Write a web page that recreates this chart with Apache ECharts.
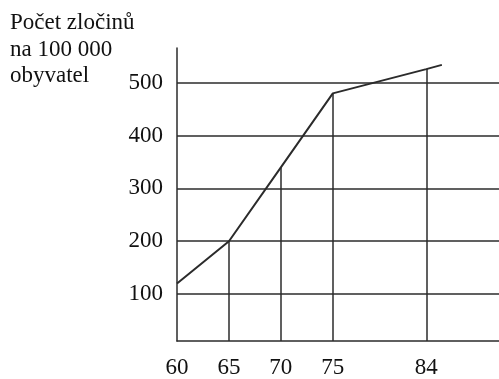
<!DOCTYPE html>
<html><head><meta charset="utf-8">
<script src="https://cdn.jsdelivr.net/npm/echarts@6/dist/echarts.min.js"></script>
<style>html,body{margin:0;padding:0;background:#fff}#c{width:499px;height:379px}</style>
</head><body><div id="c"></div>
<script>
const years = [60, 65, 70, 75, 84, 85.5];
const crimes = [120, 200, 340, 480, 526, 534];
const dropIdx = [1, 2, 3, 4];
const xTicks = [60, 65, 70, 75, 84];
const yTicks = [100, 200, 300, 400, 500];
const yMin = 11, yMax = 566, xMin = 60, xMax = 91;
const titleLines = ['Počet zločinů', 'na 100 000', 'obyvatel'];

const FONT = 'Liberation Serif';
const INK = '#2b2b2b';
const chart = echarts.init(document.getElementById('c'), null, {renderer: 'canvas'});
chart.setOption({
  animation: false,
  grid: {left: 177, top: 48, right: 0, bottom: 36, containLabel: false},
  graphic: [{
    type: 'text', left: 10, top: 10,
    style: {text: titleLines.join('\n'), font: '23px "' + FONT + '"', lineHeight: 26.5, fill: '#111'}
  }],
  xAxis: {
    type: 'value', min: xMin, max: xMax,
    axisLine: {show: true, lineStyle: {color: INK, width: 1.5}},
    axisTick: {show: false},
    splitLine: {show: false},
    axisLabel: {customValues: xTicks, color: '#111', fontFamily: FONT, fontSize: 23, margin: 15}
  },
  yAxis: {
    type: 'value', min: yMin, max: yMax,
    axisLine: {show: true, lineStyle: {color: INK, width: 1.5}},
    axisTick: {show: false},
    splitLine: {show: false},
    axisLabel: {customValues: yTicks, color: '#111', fontFamily: FONT, fontSize: 23, margin: 14}
  },
  series: [{
    type: 'line',
    data: years.map((x, i) => [x, crimes[i]]),
    symbol: 'none',
    lineStyle: {color: INK, width: 2},
    markLine: {
      silent: true, symbol: 'none', animation: false,
      label: {show: false},
      lineStyle: {color: INK, width: 1.5, type: 'solid'},
      data: yTicks.map(v => ({yAxis: v})).concat(
        dropIdx.map(i => [{coord: [years[i], yMin]}, {coord: [years[i], crimes[i]]}])
      )
    }
  }]
});
</script></body></html>
